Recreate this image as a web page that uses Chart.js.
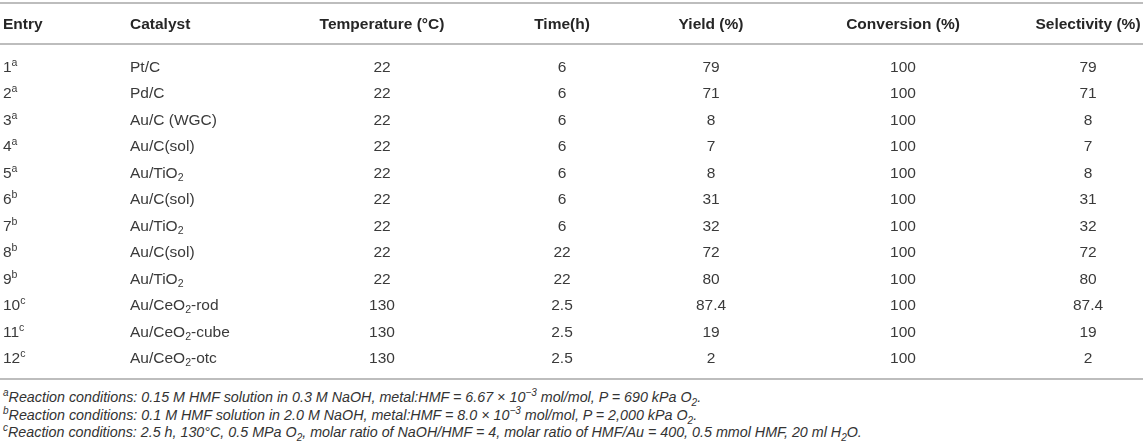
<!DOCTYPE html>
<html lang="en">

<head>
    <meta charset="UTF-8">
    <title>Catalyst screening table</title>
    <script src="https://cdn.jsdelivr.net/npm/chart.js"></script>
    <style>
        body {
            margin: 0;
            background: #fff;
            font-family: "Liberation Sans", Arial, sans-serif;
        }

        .table-wrap {
            position: relative;
            width: 1143px;
            height: 448px;
        }

        #tableChart {
            position: absolute;
            left: 0;
            top: 0;
        }

        .notes {
            position: absolute;
            left: 3px;
            top: 389px;
            font-style: italic;
            font-size: 14.3px;
            line-height: 17.5px;
            color: #333;
            white-space: nowrap;
        }

        .notes sup,
        .notes sub {
            font-size: 10px;
            line-height: 0;
        }
    </style>
</head>

<body>
    <div class="table-wrap">
        <canvas id="tableChart" width="1143" height="385"></canvas>
        <div class="notes">
            <div><sup>a</sup>Reaction conditions: 0.15 M HMF solution in 0.3 M NaOH, metal:HMF = 6.67 &times; 10<sup>&minus;3</sup> mol/mol, P = 690 kPa O<sub>2</sub>.</div>
            <div><sup>b</sup>Reaction conditions: 0.1 M HMF solution in 2.0 M NaOH, metal:HMF = 8.0 &times; 10<sup>&minus;3</sup> mol/mol, P = 2,000 kPa O<sub>2</sub>.</div>
            <div><sup>c</sup>Reaction conditions: 2.5 h, 130&deg;C, 0.5 MPa O<sub>2</sub>, molar ratio of NaOH/HMF = 4, molar ratio of HMF/Au = 400, 0.5 mmol HMF, 20 ml H<sub>2</sub>O.</div>
        </div>
    </div>

    <script>
        // table data
        var headers = ['Entry', 'Catalyst', 'Temperature (°C)', 'Time(h)', 'Yield (%)', 'Conversion (%)', 'Selectivity (%)'];
        var entries = ['1', '2', '3', '4', '5', '6', '7', '8', '9', '10', '11', '12'];
        var entryNotes = ['a', 'a', 'a', 'a', 'a', 'b', 'b', 'b', 'b', 'c', 'c', 'c'];
        var catalysts = ['Pt/C', 'Pd/C', 'Au/C (WGC)', 'Au/C(sol)', 'Au/TiO_{2}', 'Au/C(sol)', 'Au/TiO_{2}',
            'Au/C(sol)', 'Au/TiO_{2}', 'Au/CeO_{2}-rod', 'Au/CeO_{2}-cube', 'Au/CeO_{2}-otc'];
        var temperatures = [22, 22, 22, 22, 22, 22, 22, 22, 22, 130, 130, 130];
        var times = [6, 6, 6, 6, 6, 6, 6, 22, 22, 2.5, 2.5, 2.5];
        var yields = [79, 71, 8, 7, 8, 31, 32, 72, 80, 87.4, 19, 2];
        var conversions = [100, 100, 100, 100, 100, 100, 100, 100, 100, 100, 100, 100];
        var selectivities = [79, 71, 8, 7, 8, 31, 32, 72, 80, 87.4, 19, 2];

        // layout (x in px units of the x scale, y in row units)
        var colX = [3, 130, 382, 562, 711, 903, 1088];
        var colAlign = ['left', 'left', 'center', 'center', 'center', 'center', 'center'];
        var headerRow = -0.62;
        var ruleRows = [-1.38, 0.17, 12.81];

        var FONT = '"Liberation Sans", Arial, sans-serif';
        var SIZE = 15.5;

        // split "Au/TiO_{2}" or "1^{a}" into runs
        function parseRich(str) {
            var parts = String(str).split(/(\^\{[^}]*\}|_\{[^}]*\})/);
            var runs = [];
            parts.forEach(function (p) {
                if (!p) return;
                if (p[0] === '^') runs.push({ t: p.slice(2, -1), k: 'sup' });
                else if (p[0] === '_' && p[1] === '{') runs.push({ t: p.slice(2, -1), k: 'sub' });
                else runs.push({ t: p, k: 'n' });
            });
            return runs;
        }

        function runFont(k, weight) {
            var s = k === 'n' ? SIZE : SIZE * 0.68;
            return weight + ' ' + s + 'px ' + FONT;
        }

        function drawRich(ctx, str, x, y, align, weight) {
            var runs = parseRich(str);
            var w = 0;
            runs.forEach(function (r) {
                ctx.font = runFont(r.k, weight);
                r.w = ctx.measureText(r.t).width;
                w += r.w;
            });
            var cx = x;
            if (align === 'center') cx = x - w / 2;
            else if (align === 'right') cx = x - w;
            var base = y + SIZE * 0.36;
            ctx.textAlign = 'left';
            ctx.textBaseline = 'alphabetic';
            runs.forEach(function (r) {
                ctx.font = runFont(r.k, weight);
                var dy = r.k === 'sup' ? -SIZE * 0.38 : (r.k === 'sub' ? SIZE * 0.22 : 0);
                ctx.fillText(r.t, cx, base + dy);
                cx += r.w;
            });
        }

        document.addEventListener('DOMContentLoaded', function () {
            var cellText = [
                entries.map(function (e, i) { return e + '^{' + entryNotes[i] + '}'; }),
                catalysts,
                temperatures,
                times,
                yields,
                conversions,
                selectivities
            ];

            // one scatter dataset per column, one point per row
            var datasets = cellText.map(function (col, c) {
                return {
                    label: headers[c],
                    data: col.map(function (v, r) { return { x: colX[c], y: r + 1 }; }),
                    texts: col,
                    align: colAlign[c],
                    pointRadius: 0,
                    pointHoverRadius: 0
                };
            });

            var tablePlugin = {
                id: 'tableText',
                afterDatasetsDraw: function (chart) {
                    var ctx = chart.ctx;
                    var xs = chart.scales.x, ys = chart.scales.y;
                    var area = chart.chartArea;
                    ctx.save();

                    // horizontal rules
                    ctx.strokeStyle = '#bdbdbd';
                    ctx.lineWidth = 2;
                    ruleRows.forEach(function (v) {
                        var py = Math.round(ys.getPixelForValue(v));
                        ctx.beginPath();
                        ctx.moveTo(area.left, py);
                        ctx.lineTo(area.right, py);
                        ctx.stroke();
                    });

                    // header row
                    ctx.fillStyle = '#262626';
                    headers.forEach(function (h, c) {
                        drawRich(ctx, h, xs.getPixelForValue(colX[c]), ys.getPixelForValue(headerRow), colAlign[c], 'bold');
                    });

                    // body cells
                    ctx.fillStyle = '#3a3a3a';
                    chart.data.datasets.forEach(function (ds, d) {
                        var meta = chart.getDatasetMeta(d);
                        meta.data.forEach(function (pt, i) {
                            drawRich(ctx, ds.texts[i], pt.x, pt.y, ds.align, 'normal');
                        });
                    });
                    ctx.restore();
                }
            };

            new Chart(document.getElementById('tableChart').getContext('2d'), {
                type: 'scatter',
                data: { datasets: datasets },
                options: {
                    responsive: false,
                    animation: false,
                    events: [],
                    layout: { padding: 0 },
                    plugins: { legend: { display: false }, tooltip: { enabled: false } },
                    scales: {
                        x: { type: 'linear', min: 0, max: 1143, display: false },
                        y: { type: 'linear', min: -1.49, max: 13.04, reverse: true, display: false }
                    }
                },
                plugins: [tablePlugin]
            });
        });
    </script>
</body>

</html>
